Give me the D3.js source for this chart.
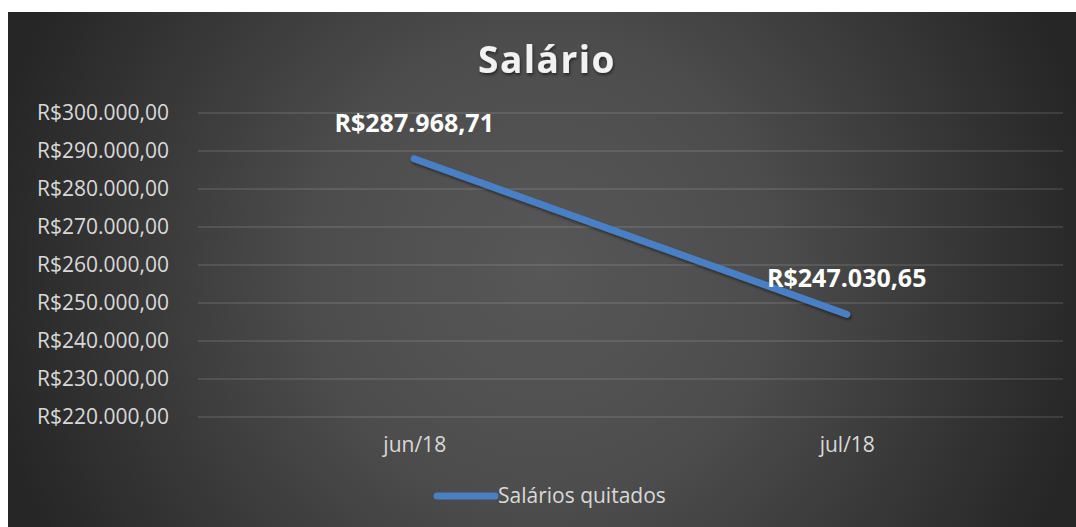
<!DOCTYPE html>
<html>
<head>
<meta charset="utf-8">
<script src="https://cdn.jsdelivr.net/npm/d3@7"></script>
<style>
  html, body { margin: 0; padding: 0; background: #fff; }
  svg { display: block; }
  text { font-family: "Open Sans", sans-serif; }
</style>
</head>
<body>
<div id="chart"></div>
<script>
var categories = ["jun/18", "jul/18"];
var salarios = [287968.71, 247030.65];
var yTicks = [220000, 230000, 240000, 250000, 260000, 270000, 280000, 290000, 300000];
var seriesName = "Salários quitados";
var chartTitle = "Salário";

var W = 1076, H = 527;
var box = {x: 8, y: 12, w: 1068, h: 515};
var plot = {left: 198, right: 1063, top: 113, bottom: 417};

// formato brasileiro R$1.234,56
var brl = d3.formatLocale({decimal: ",", thousands: ".", grouping: [3], currency: ["R$", ""]}).format("$,.2f");

var svg = d3.select("#chart").append("svg")
    .attr("width", W)
    .attr("height", H);

var defs = svg.append("defs");
var grad = defs.append("radialGradient")
    .attr("id", "bg")
    .attr("gradientUnits", "userSpaceOnUse")
    .attr("cx", 542).attr("cy", 270).attr("r", 560);
grad.append("stop").attr("offset", 0).attr("stop-color", "#575757");
grad.append("stop").attr("offset", 0.4).attr("stop-color", "#4d4d4d");
grad.append("stop").attr("offset", 1).attr("stop-color", "#262626");

var shadow = defs.append("filter").attr("id", "shadow")
    .attr("x", "-10%").attr("y", "-10%").attr("width", "130%").attr("height", "140%");
shadow.append("feDropShadow")
    .attr("dx", 1).attr("dy", 2).attr("stdDeviation", 1.5)
    .attr("flood-color", "#000").attr("flood-opacity", 0.5);

svg.append("rect")
    .attr("x", box.x).attr("y", box.y)
    .attr("width", box.w).attr("height", box.h)
    .attr("fill", "url(#bg)");

var x = d3.scalePoint()
    .domain(categories)
    .range([plot.left, plot.right])
    .padding(0.5);

var y = d3.scaleLinear()
    .domain([220000, 300000])
    .range([plot.bottom, plot.top]);

// gridlines
svg.append("g")
    .selectAll("line")
    .data(yTicks)
    .join("line")
    .attr("x1", plot.left).attr("x2", plot.right)
    .attr("y1", function(d) { return y(d); })
    .attr("y2", function(d) { return y(d); })
    .attr("stroke", "#fff")
    .attr("stroke-opacity", 0.1)
    .attr("stroke-width", 2);

// eixo y
var yAxis = d3.axisLeft(y)
    .tickValues(yTicks)
    .tickFormat(brl)
    .tickSize(0)
    .tickPadding(29);

svg.append("g")
    .attr("transform", "translate(" + plot.left + ",0)")
    .call(yAxis)
    .call(function(g) { g.select(".domain").remove(); })
    .selectAll("text")
    .attr("fill", "#d9d9d9")
    .attr("font-size", 21)
    .attr("font-family", "'Open Sans', sans-serif");

// eixo x
var xAxis = d3.axisBottom(x).tickSize(0).tickPadding(20);

svg.append("g")
    .attr("transform", "translate(0," + plot.bottom + ")")
    .call(xAxis)
    .call(function(g) { g.select(".domain").remove(); })
    .selectAll("text")
    .attr("fill", "#d9d9d9")
    .attr("font-size", 21)
    .attr("font-family", "'Open Sans', sans-serif");

// linha
var data = categories.map(function(c, i) { return {cat: c, value: salarios[i]}; });

var line = d3.line()
    .x(function(d) { return x(d.cat); })
    .y(function(d) { return y(d.value); });

svg.append("path")
    .datum(data)
    .attr("d", line)
    .attr("fill", "none")
    .attr("stroke", "#4a7fc4")
    .attr("stroke-width", 7)
    .attr("stroke-linecap", "round")
    .attr("filter", "url(#shadow)");

// rótulos
svg.append("g")
    .selectAll("text")
    .data(data)
    .join("text")
    .attr("x", function(d) { return x(d.cat); })
    .attr("y", function(d) { return y(d.value) - 27; })
    .attr("text-anchor", "middle")
    .attr("fill", "#fff")
    .attr("font-size", 25)
    .attr("font-weight", "bold")
    .text(function(d) { return brl(d.value); });

// título
svg.append("text")
    .attr("x", 547)
    .attr("y", 73)
    .attr("text-anchor", "middle")
    .attr("fill", "#f2f2f2")
    .attr("font-size", 37)
    .attr("font-weight", "bold")
    .attr("letter-spacing", 1.5)
    .attr("filter", "url(#shadow)")
    .text(chartTitle);

// legenda
var legend = svg.append("g").attr("transform", "translate(437,496)");
legend.append("line")
    .attr("x1", 0).attr("x2", 58)
    .attr("y1", 0).attr("y2", 0)
    .attr("stroke", "#4a7fc4")
    .attr("stroke-width", 7)
    .attr("stroke-linecap", "round");
legend.append("text")
    .attr("x", 61)
    .attr("y", 7)
    .attr("fill", "#d9d9d9")
    .attr("font-size", 21)
    .text(seriesName);
</script>
</body>
</html>
